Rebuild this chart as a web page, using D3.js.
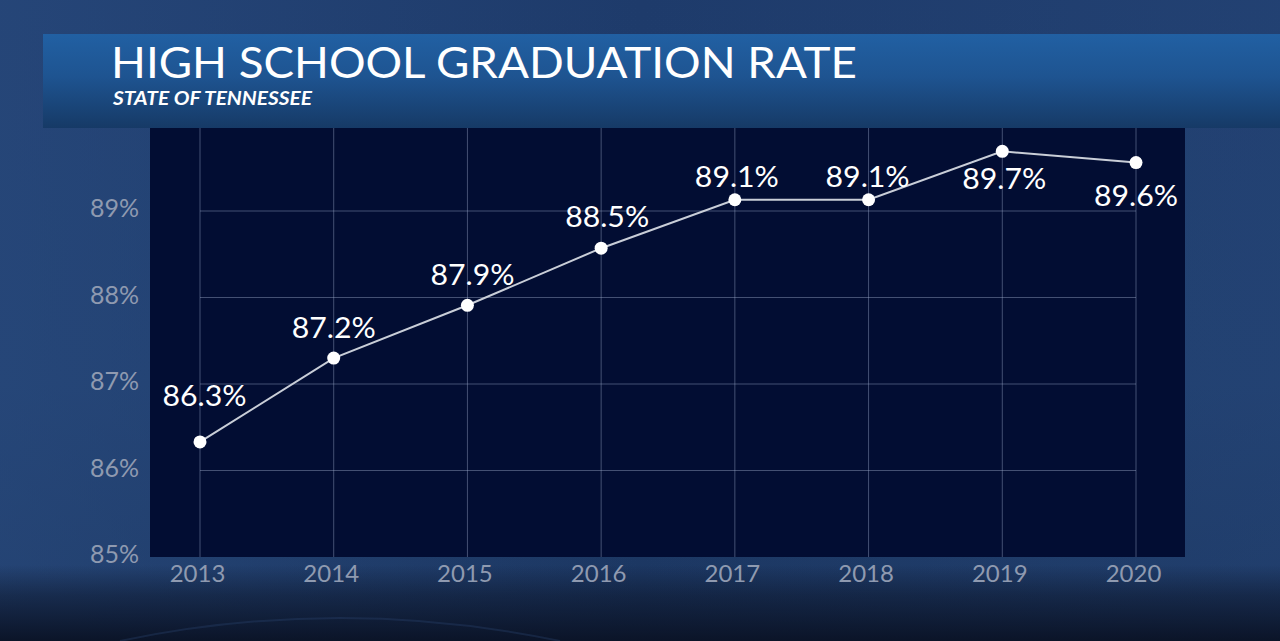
<!DOCTYPE html>
<html>
<head>
<meta charset="utf-8">
<script src="https://cdn.jsdelivr.net/npm/d3@7"></script>
<style>
  html, body { margin: 0; padding: 0; background: #0d1a35; overflow: hidden; }
  svg { display: block; }
</style>
</head>
<body>
<svg id="chart" width="1280" height="641"></svg>
<script>
// ---- data ----
const years = ["2013", "2014", "2015", "2016", "2017", "2018", "2019", "2020"];
const rates = [86.33, 87.3, 87.91, 88.57, 89.13, 89.13, 89.69, 89.56];
const rateLabels = ["86.3%", "87.2%", "87.9%", "88.5%", "89.1%", "89.1%", "89.7%", "89.6%"];
const yTicks = [85, 86, 87, 88, 89];
const yTickLabels = ["85%", "86%", "87%", "88%", "89%"];
const title = "HIGH SCHOOL GRADUATION RATE";
const subtitle = "STATE OF TENNESSEE";

// ---- layout (label placement relative to each point) ----
const labelDx = [4.5, 0, 5, 6, 2, -1, 2, 0];
const labelDy = [-46, -30, -31, -32, -23, -23, 27, 32.5];

const W = 1280, H = 641;
const svg = d3.select("#chart");
const defs = svg.append("defs");

// background gradient
const bg = defs.append("linearGradient").attr("id", "bg").attr("x1", 0).attr("y1", 0).attr("x2", 0).attr("y2", 1);
bg.append("stop").attr("offset", "0%").attr("stop-color", "#1e3b6b");
bg.append("stop").attr("offset", "60%").attr("stop-color", "#1f3d6c");
bg.append("stop").attr("offset", "100%").attr("stop-color", "#1b355f");
svg.append("rect").attr("width", W).attr("height", H).attr("fill", "url(#bg)");

const bgSide = defs.append("linearGradient").attr("id", "bgSide").attr("x1", 0).attr("y1", 0).attr("x2", 1).attr("y2", 0);
bgSide.append("stop").attr("offset", "0%").attr("stop-color", "#2a4c80").attr("stop-opacity", 0.6);
bgSide.append("stop").attr("offset", "50%").attr("stop-color", "#2a4c80").attr("stop-opacity", 0);
bgSide.append("stop").attr("offset", "100%").attr("stop-color", "#2a4c80").attr("stop-opacity", 0.35);
svg.append("rect").attr("width", W).attr("height", H).attr("fill", "url(#bgSide)");

// bottom dark fade
const bf = defs.append("linearGradient").attr("id", "bf").attr("x1", 0).attr("y1", 0).attr("x2", 0).attr("y2", 1);
bf.append("stop").attr("offset", "0%").attr("stop-color", "#0b1428").attr("stop-opacity", 0);
bf.append("stop").attr("offset", "40%").attr("stop-color", "#0b1428").attr("stop-opacity", 0.5);
bf.append("stop").attr("offset", "100%").attr("stop-color", "#0b1428").attr("stop-opacity", 1);
svg.append("rect").attr("x", 0).attr("y", 565).attr("width", W).attr("height", 76).attr("fill", "url(#bf)");

// faint arc near the bottom
svg.append("path")
  .attr("d", "M 120 641 Q 340 595 560 641")
  .attr("fill", "none").attr("stroke", "#2a4570").attr("stroke-opacity", 0.35).attr("stroke-width", 2);

// banner
const bn = defs.append("linearGradient").attr("id", "bn").attr("x1", 0).attr("y1", 0).attr("x2", 0).attr("y2", 1);
bn.append("stop").attr("offset", "0%").attr("stop-color", "#2160a3");
bn.append("stop").attr("offset", "45%").attr("stop-color", "#1e5491");
bn.append("stop").attr("offset", "100%").attr("stop-color", "#163a66");
svg.append("rect").attr("x", 43).attr("y", 34).attr("width", W - 43).attr("height", 94).attr("fill", "url(#bn)");

svg.append("text").attr("x", 111).attr("y", 78)
  .attr("font-family", "Lato, 'Open Sans', sans-serif").attr("font-size", 43).attr("font-weight", 400)
  .attr("fill", "#ffffff").attr("textLength", 746).attr("lengthAdjust", "spacingAndGlyphs")
  .text(title);
svg.append("text").attr("x", 113).attr("y", 105)
  .attr("font-family", "Lato, 'Open Sans', sans-serif").attr("font-size", 18).attr("font-weight", 700)
  .attr("font-style", "italic").attr("fill", "#ffffff").attr("textLength", 199).attr("lengthAdjust", "spacingAndGlyphs")
  .text(subtitle);

// plot panel
const panel = { x0: 150, x1: 1185, y0: 128, y1: 557 };
svg.append("rect").attr("x", panel.x0).attr("y", panel.y0)
  .attr("width", panel.x1 - panel.x0).attr("height", panel.y1 - panel.y0).attr("fill", "#020d33");

// scales
const x = d3.scalePoint().domain(years).range([200, 1136]);
const y = d3.scaleLinear().domain([85, 89]).range([557, 211]);

// grid
const gridColor = "rgba(160,175,205,0.42)";
svg.append("g").selectAll("line").data(years).join("line")
  .attr("x1", d => x(d)).attr("x2", d => x(d))
  .attr("y1", panel.y0).attr("y2", panel.y1)
  .attr("stroke", gridColor).attr("stroke-width", 1);
svg.append("g").selectAll("line").data(yTicks.filter(t => t > 85)).join("line")
  .attr("x1", x(years[0])).attr("x2", x(years[years.length - 1]))
  .attr("y1", d => y(d)).attr("y2", d => y(d))
  .attr("stroke", gridColor).attr("stroke-width", 1);

// axes
const axisFont = "Lato, 'Open Sans', sans-serif";
const yAxis = d3.axisLeft(y).tickValues(yTicks).tickFormat((d, i) => yTickLabels[i]).tickSize(0).tickPadding(0);
const gy = svg.append("g").attr("transform", "translate(139,-3)").call(yAxis);
gy.select(".domain").remove();
gy.selectAll("text").attr("font-family", axisFont).attr("font-size", 25).attr("fill", "#8f9ab0").attr("dy", "0.35em");

const xAxis = d3.axisBottom(x).tickSize(0).tickPadding(0);
const gx = svg.append("g").attr("transform", "translate(-3,574)").call(xAxis);
gx.select(".domain").remove();
gx.selectAll("text").attr("font-family", axisFont).attr("font-size", 24).attr("fill", "#8f9ab0").attr("dy", "0.35em");

// line
const data = years.map((yr, i) => ({ yr, v: rates[i], label: rateLabels[i], i }));
const line = d3.line().x(d => x(d.yr)).y(d => y(d.v));
svg.append("path").datum(data).attr("d", line)
  .attr("fill", "none").attr("stroke", "#c9ced8").attr("stroke-width", 2);

svg.append("g").selectAll("circle").data(data).join("circle")
  .attr("cx", d => x(d.yr)).attr("cy", d => y(d.v)).attr("r", 6.5)
  .attr("fill", "#ffffff");

// value labels
svg.append("g").selectAll("text").data(data).join("text")
  .attr("x", d => x(d.yr) + labelDx[d.i])
  .attr("y", d => y(d.v) + labelDy[d.i])
  .attr("text-anchor", "middle").attr("dy", "0.36em")
  .attr("font-family", axisFont).attr("font-size", 29).attr("fill", "#ffffff")
  .attr("textLength", 84).attr("lengthAdjust", "spacingAndGlyphs")
  .text(d => d.label);
</script>
</body>
</html>
